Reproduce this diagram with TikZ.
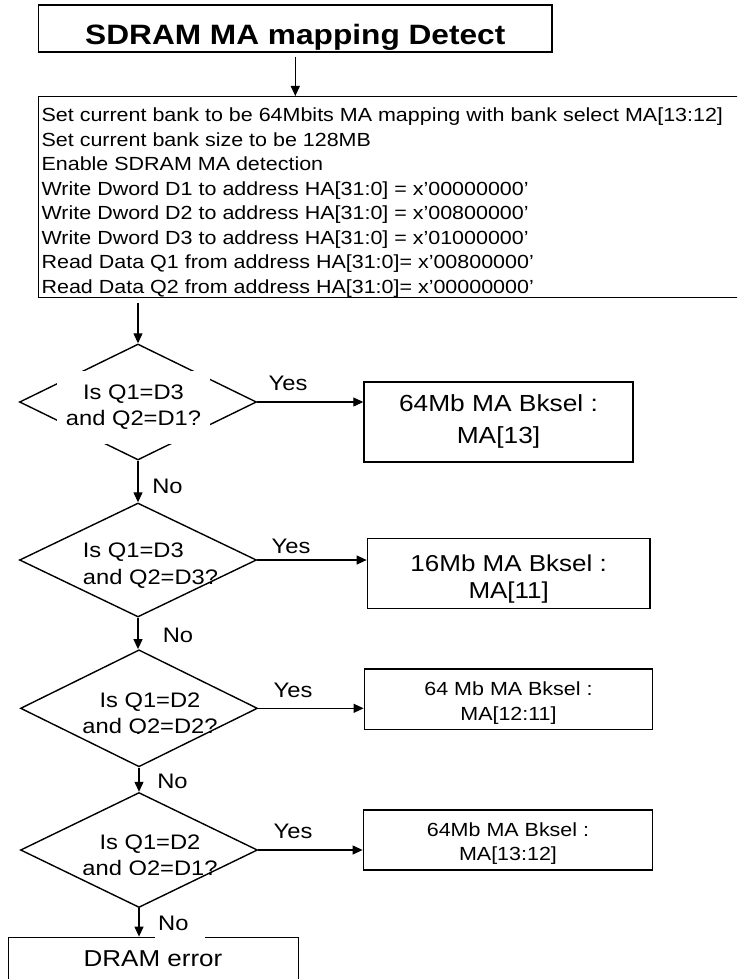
\documentclass[tikz,border=0pt]{standalone}
\usepackage{fontspec}
\setmainfont{Liberation Sans}[FakeStretch=1.13]
\usetikzlibrary{shapes.geometric, arrows.meta}
\newcommand{\fsz}[2]{\fontsize{#1}{#2}\selectfont}
\tikzset{
    normal/.style={draw, line width=1.4pt},
    box/.style={style=normal, rectangle, inner sep=0},
    dec/.style={style=normal, diamond, inner sep=0, minimum width=237}, % decision diamonds
    e/.style={style=normal, line width=1.2pt, -{Triangle[length=10pt, width=9pt]}},
    lbl/.style={fill=white, inner sep=1pt, font=\fsz{21}{25}}, % Yes / No
    qtext/.style={align=center, inner sep=0, font=\fsz{21}{26.3}}
}

\begin{document}
\begin{tikzpicture}[x=1pt, y=-1pt]
        \useasboundingbox (0,0) rectangle (737,979);
        \clip (0,0) rectangle (737,979);

        \node[box, minimum width=513.5, minimum height=47] (title) at (295.3, 28.5) {};
        \node[anchor=base, font=\bfseries\fsz{28}{34}] (titletext) at (295.3, 45) {SDRAM MA mapping Detect};

        \node[box, minimum width=710, minimum height=201] (setup) at (393.5, 197.2) {};
        \foreach \ln [count=\i] in {
            {Set current bank to be 64Mbits MA mapping with bank select MA[13:12]},
            {Set current bank size to be 128MB},
            {Enable SDRAM MA detection},
            {Write Dword D1 to address HA[31:0] = x’00000000’},
            {Write Dword D2 to address HA[31:0] = x’00800000’},
            {Write Dword D3 to address HA[31:0] = x’01000000’},
            {Read Data Q1 from address HA[31:0]= x’00800000’},
            {Read Data Q2 from address HA[31:0]= x’00000000’}}
            \node[anchor=base west, inner sep=0, font=\fsz{19}{24}] (line\i) at (41.4, {121.8+24.5*(\i-1)}) {\ln};

        % decisions
        \node[dec, minimum height=116] (d1) at (138, 402) {};
        \node[dec, minimum height=114] (d2) at (138, 560) {};
        \node[dec, minimum height=117] (d3) at (139, 708.3) {};
        \node[dec, minimum height=115] (d4) at (139, 850) {};

        \node[qtext, fill=white, minimum width=153, minimum height=73] (q1) at (133.5, 407.3) {Is Q1=D3\\and Q2=D1?};
        \node[qtext, align=left, anchor=west] (q2) at (82.7, 565.5) {Is Q1=D3\\and Q2=D3?};
        \begin{scope}
            \clip (0,680) rectangle (300,733.3);
            \node[qtext] (q3) at (150, 715.3) {Is Q1=D2\\and Q2=D2?};
        \end{scope}
        \begin{scope}
            \clip (0,820) rectangle (300,874);
            \node[qtext] (q4) at (150, 857) {Is Q1=D2\\and Q2=D1?};
        \end{scope}

        % results
        \node[box, minimum width=269, minimum height=80] (bk1) at (498.5, 422) {};
        \node[align=center, font=\fsz{23.3}{31.7}] at (498.5, 421.2) {64Mb MA Bksel :\\MA[13]};
        \node[box, minimum width=282.7, minimum height=70] (bk2) at (508.7, 573.3) {};
        \node[align=center, font=\fsz{23}{26.7}] at (508.7, 578.9) {16Mb MA Bksel :\\MA[11]};
        \node[box, minimum width=288.4, minimum height=60.3] (bk3) at (508.5, 699.2) {};
        \node[align=center, font=\fsz{19}{25}] at (508.5, 702.7) {64 Mb MA Bksel :\\MA[12:11]};
        \node[box, minimum width=289.4, minimum height=60] (bk4) at (508, 840) {};
        \node[align=center, font=\fsz{19}{23.3}] at (508, 843.5) {64Mb MA Bksel :\\MA[13:12]};
        \node[box, minimum width=290, minimum height=60] (dram) at (153.3, 967.3) {};
        \node[font=\fsz{23}{28}] at (153, 959) {DRAM error};

        \draw[e, shorten <=4pt] (title.south) -- (title.south |- setup.north);
        \draw[e, shorten <=5pt] (setup.south -| d1.north) -- (d1.north);
        \draw[e] (d1.east) -- (d1.east -| bk1.west);
        \draw[e] (d2.east) -- (d2.east -| bk2.west);
        \draw[e] (d3.east) -- (d3.east -| bk3.west);
        \draw[e] (d4.east) -- (d4.east -| bk4.west);
        \draw[e] (d1.south) -- (d1.south |- d2.north);
        \draw[e] (d2.south) -- (d2.south |- d3.north);
        \draw[e] (d3.south) -- (d3.south |- d4.north);
        \draw[e] (d4.south) -- (d4.south |- dram.north);

        \node[lbl] (yes1) at (288, 383) {Yes};
        \node[lbl] (yes2) at (291, 546.7) {Yes};
        \node[lbl] (yes3) at (293, 690) {Yes};
        \node[lbl] (yes4) at (293, 831.7) {Yes};
        \node[lbl] (no1) at (167.5, 486.7) {No};
        \node[lbl] (no2) at (178, 635) {No};
        \node[lbl] (no3) at (172.5, 781.7) {No};
        \node[lbl, anchor=west, text width=44, inner xsep=3pt, minimum height=32] (no4) at (155, 923) {No};
      \end{tikzpicture}
\end{document}
